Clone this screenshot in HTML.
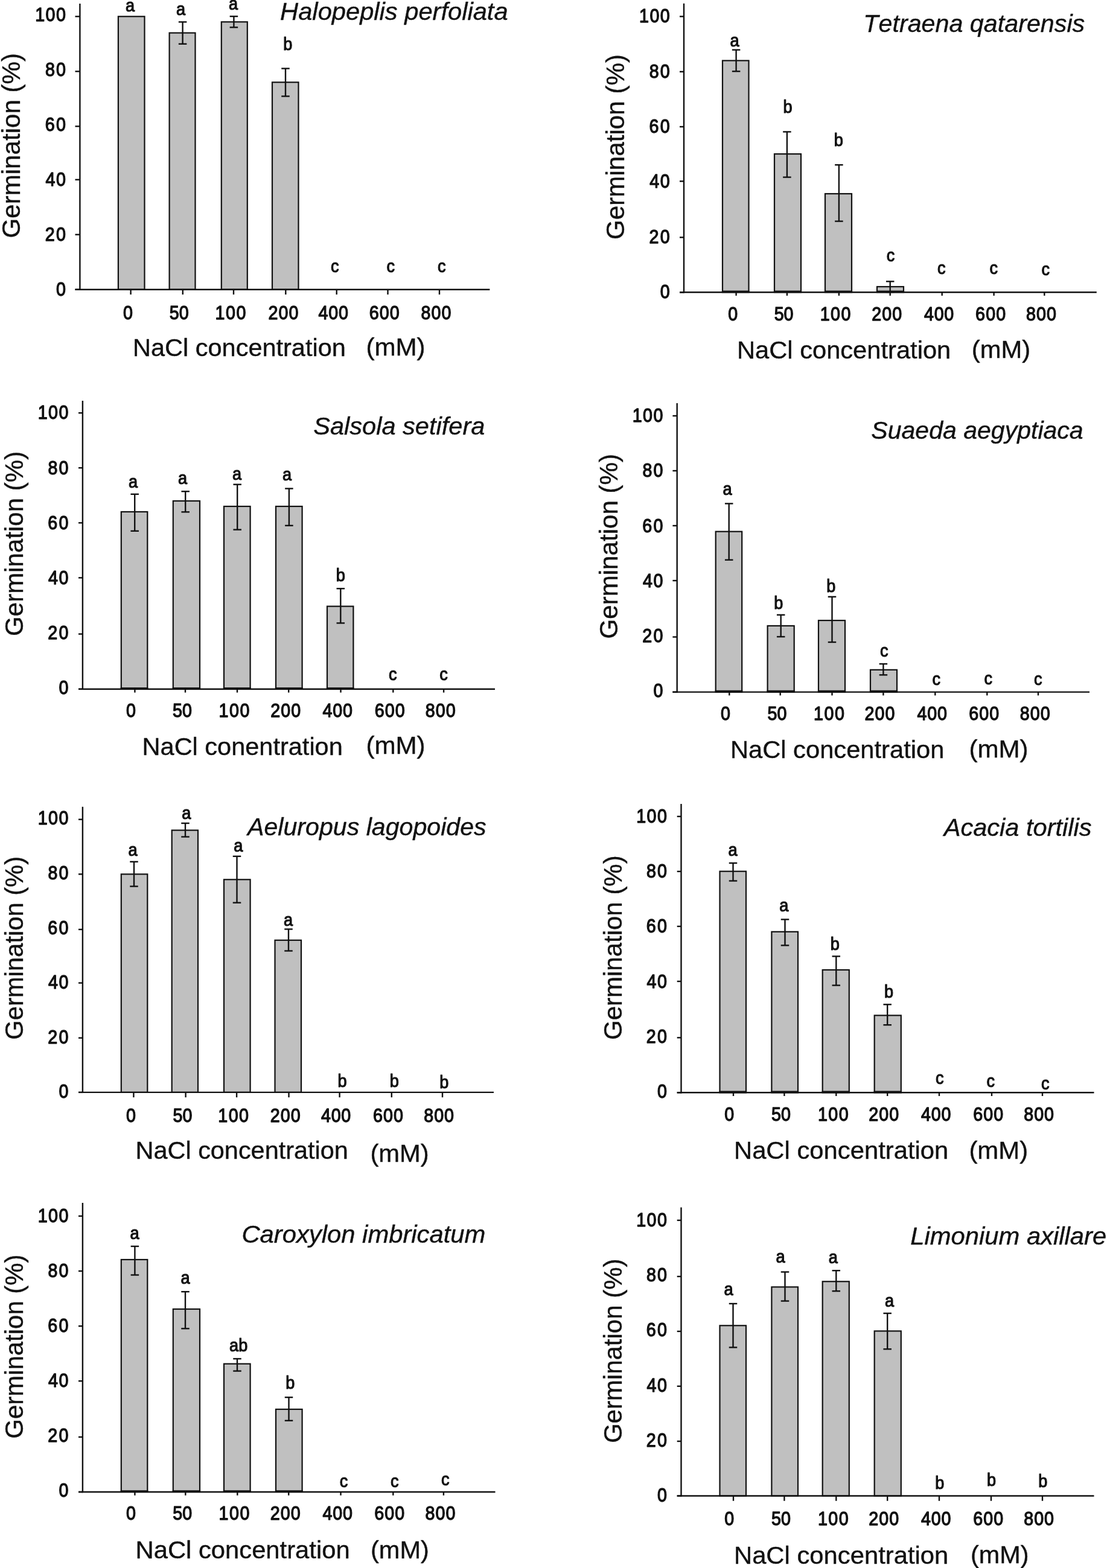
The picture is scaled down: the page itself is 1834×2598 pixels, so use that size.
<!DOCTYPE html>
<html lang="en">
<head>
<meta charset="utf-8">
<title>Germination (%) vs NaCl concentration (mM)</title>
<style>
html,body{margin:0;padding:0;background:#fff;}
body{width:1834px;height:2598px;overflow:hidden;}
svg{display:block;}
text{font-family:"Liberation Sans",Arial,Helvetica,sans-serif;fill:#111111;font-kerning:none;white-space:pre;}
.ln line{stroke:#111111;stroke-width:2.4;stroke-linecap:butt;}
.bars rect{fill:#c0c0c0;stroke:#111111;stroke-width:2.2;}
.n{font-size:31.2px;stroke:#111111;stroke-width:1.35px;stroke-linejoin:round;}
.s{font-size:29.5px;stroke:#111111;stroke-width:1.2px;stroke-linejoin:round;}
.r{font-family:"Liberation Serif","Times New Roman",serif;font-weight:bold;font-size:31px;}
.ti,.ax,.yl,.mm{stroke:#111111;stroke-width:0.4px;stroke-linejoin:round;}
.ti{font-style:italic;font-size:41.2px;}
.ax{font-size:41.2px;}
.yl{font-size:42.5px;}
.mm{font-size:40px;}
</style>
</head>
<body>
<svg width="1834" height="2598" viewBox="0 0 1834 2598" role="img" aria-label="Seed germination under NaCl concentrations for eight species">

<rect x="0" y="0" width="1834" height="2598" fill="#ffffff"/>
<g>
<g class="panel">
<g class="bars">
<rect x="195.9" y="27.3" width="43.6" height="452.4"/>
<rect x="280.6" y="54.5" width="42.9" height="425.2"/>
<rect x="366.8" y="36.3" width="43" height="443.4"/>
<rect x="451" y="136.3" width="43.5" height="343.4"/>
</g>
<g class="ln">
<line x1="132.4" y1="6" x2="132.4" y2="480.9"/>
<line x1="124.5" y1="479.7" x2="811.4" y2="479.7"/>
<line x1="124.5" y1="27.3" x2="132.4" y2="27.3"/>
<line x1="124.5" y1="118.3" x2="132.4" y2="118.3"/>
<line x1="124.5" y1="209.3" x2="132.4" y2="209.3"/>
<line x1="124.5" y1="297.7" x2="132.4" y2="297.7"/>
<line x1="124.5" y1="388.7" x2="132.4" y2="388.7"/>
<line x1="124.5" y1="479.7" x2="132.4" y2="479.7"/>
<line x1="216.6" y1="479.7" x2="216.6" y2="488"/>
<line x1="302.8" y1="479.7" x2="302.8" y2="488"/>
<line x1="387" y1="479.7" x2="387" y2="488"/>
<line x1="473.3" y1="479.7" x2="473.3" y2="488"/>
<line x1="557.7" y1="479.7" x2="557.7" y2="488"/>
<line x1="642.5" y1="479.7" x2="642.5" y2="488"/>
<line x1="728" y1="479.7" x2="728" y2="488"/>
<line x1="302.6" y1="36.4" x2="302.6" y2="72.8"/>
<line x1="295.85" y1="36.4" x2="309.35" y2="36.4"/>
<line x1="295.85" y1="72.8" x2="309.35" y2="72.8"/>
<line x1="387.4" y1="27.1" x2="387.4" y2="45.3"/>
<line x1="380.65" y1="27.1" x2="394.15" y2="27.1"/>
<line x1="380.65" y1="45.3" x2="394.15" y2="45.3"/>
<line x1="473" y1="113.5" x2="473" y2="159.5"/>
<line x1="466.25" y1="113.5" x2="479.75" y2="113.5"/>
<line x1="466.25" y1="159.5" x2="479.75" y2="159.5"/>
</g>
<g class="tk">
<text class="n" transform="translate(58.19 35.2) scale(0.9200 1)" letter-spacing="1.56">100</text>
<text class="n" transform="translate(74.93 126.3) scale(0.9200 1)" letter-spacing="2.27">80</text>
<text class="n" transform="translate(74.72 217.3) scale(0.9200 1)" letter-spacing="2.5">60</text>
<text class="n" transform="translate(75.52 308.4) scale(0.9200 1)" letter-spacing="1.63">40</text>
<text class="n" transform="translate(74.73 399) scale(0.9200 1)" letter-spacing="2.49">20</text>
<text class="n" transform="translate(92.98 490) scale(0.9200 1)">0</text>
<text class="n" transform="translate(204.12 528.9) scale(0.9200 1)">0</text>
<text class="n" transform="translate(280.83 528.9) scale(0.9200 1)" letter-spacing="-0.01">50</text>
<text class="n" transform="translate(356.59 528.9) scale(0.9200 1)" letter-spacing="1.56">100</text>
<text class="n" transform="translate(444.43 528.9) scale(0.9200 1)" letter-spacing="1.15">200</text>
<text class="n" transform="translate(527.62 528.9) scale(0.9200 1)" letter-spacing="0.73">400</text>
<text class="n" transform="translate(611.82 528.9) scale(0.9200 1)" letter-spacing="1.16">600</text>
<text class="n" transform="translate(697.53 528.9) scale(0.9200 1)" letter-spacing="1.05">800</text>
</g>
<g class="lt">
<text class="s" transform="translate(207.88 19) scale(0.9200 1)">a</text>
<text class="s" transform="translate(291.88 25.3) scale(0.9200 1)">a</text>
<text class="s" transform="translate(378.88 16) scale(0.9200 1)">a</text>
<text class="s" transform="translate(469.15 82.7) scale(0.9200 1)">b</text>
<text class="s" transform="translate(548 450.8) scale(0.9200 1)">c</text>
<text class="s" transform="translate(640.6 450.8) scale(0.9200 1)">c</text>
<text class="s" transform="translate(725 450.8) scale(0.9200 1)">c</text>
</g>
<text class="ti" transform="translate(464.12 32.5) scale(1.0115 1)">Halopeplis perfoliata</text>
<text class="ax" transform="translate(220.1 590) scale(1.0069 1)">NaCl concentration</text>
<text class="mm" transform="translate(606.39 588.8) scale(1.0530 1)">(mM)</text>
<text class="yl" transform="translate(33.3 394.52) rotate(-90) scale(0.9914 1)">Germination (%)</text>
</g>
<g class="panel">
<g class="bars">
<rect x="1197" y="100.4" width="43.5" height="383.8"/>
<rect x="1283" y="255.1" width="44" height="229.1"/>
<rect x="1367" y="321" width="44" height="163.2"/>
<rect x="1453" y="475" width="44" height="9.2"/>
</g>
<g class="ln">
<line x1="1195.9" y1="482.6" x2="1241.6" y2="482.6" stroke-width="3.2"/>
<line x1="1281.9" y1="482.6" x2="1328.1" y2="482.6" stroke-width="3.2"/>
<line x1="1365.9" y1="482.6" x2="1412.1" y2="482.6" stroke-width="3.2"/>
<line x1="1451.9" y1="482.6" x2="1498.1" y2="482.6" stroke-width="3.2"/>
</g>
<g class="ln">
<line x1="1133" y1="5.7" x2="1133" y2="485.4"/>
<line x1="1126" y1="484.2" x2="1816.8" y2="484.2"/>
<line x1="1126" y1="27.3" x2="1133" y2="27.3"/>
<line x1="1126" y1="118.8" x2="1133" y2="118.8"/>
<line x1="1126" y1="210" x2="1133" y2="210"/>
<line x1="1126" y1="300.3" x2="1133" y2="300.3"/>
<line x1="1126" y1="393.3" x2="1133" y2="393.3"/>
<line x1="1126" y1="484.4" x2="1133" y2="484.4"/>
<line x1="1219.6" y1="484.2" x2="1219.6" y2="489.9"/>
<line x1="1303.9" y1="484.2" x2="1303.9" y2="489.9"/>
<line x1="1389.9" y1="484.2" x2="1389.9" y2="489.9"/>
<line x1="1474.7" y1="484.2" x2="1474.7" y2="489.9"/>
<line x1="1560.7" y1="484.2" x2="1560.7" y2="489.9"/>
<line x1="1646.6" y1="484.2" x2="1646.6" y2="489.9"/>
<line x1="1730.3" y1="484.2" x2="1730.3" y2="489.9"/>
<line x1="1219.6" y1="82.6" x2="1219.6" y2="118.2"/>
<line x1="1212.85" y1="82.6" x2="1226.35" y2="82.6"/>
<line x1="1212.85" y1="118.2" x2="1226.35" y2="118.2"/>
<line x1="1303.9" y1="218.4" x2="1303.9" y2="293.6"/>
<line x1="1297.15" y1="218.4" x2="1310.65" y2="218.4"/>
<line x1="1297.15" y1="293.6" x2="1310.65" y2="293.6"/>
<line x1="1389.9" y1="273.2" x2="1389.9" y2="366.6"/>
<line x1="1383.15" y1="273.2" x2="1396.65" y2="273.2"/>
<line x1="1383.15" y1="366.6" x2="1396.65" y2="366.6"/>
<line x1="1474.7" y1="466.3" x2="1474.7" y2="484"/>
<line x1="1467.95" y1="466.3" x2="1481.45" y2="466.3"/>
<line x1="1467.95" y1="484" x2="1481.45" y2="484"/>
</g>
<g class="tk">
<text class="n" transform="translate(1058.99 37.1) scale(0.9200 1)" letter-spacing="1.56">100</text>
<text class="n" transform="translate(1075.73 128.6) scale(0.9200 1)" letter-spacing="2.27">80</text>
<text class="n" transform="translate(1075.52 219.9) scale(0.9200 1)" letter-spacing="2.5">60</text>
<text class="n" transform="translate(1076.32 311.2) scale(0.9200 1)" letter-spacing="1.63">40</text>
<text class="n" transform="translate(1075.53 402.5) scale(0.9200 1)" letter-spacing="2.49">20</text>
<text class="n" transform="translate(1093.78 494.2) scale(0.9200 1)">0</text>
<text class="n" transform="translate(1206.32 530.5) scale(0.9200 1)">0</text>
<text class="n" transform="translate(1282.63 530.5) scale(0.9200 1)" letter-spacing="-0.01">50</text>
<text class="n" transform="translate(1358.69 530.5) scale(0.9200 1)" letter-spacing="1.56">100</text>
<text class="n" transform="translate(1444.23 530.5) scale(0.9200 1)" letter-spacing="1.15">200</text>
<text class="n" transform="translate(1531.02 530.5) scale(0.9200 1)" letter-spacing="0.73">400</text>
<text class="n" transform="translate(1616.12 530.5) scale(0.9200 1)" letter-spacing="1.16">600</text>
<text class="n" transform="translate(1700.03 530.5) scale(0.9200 1)" letter-spacing="1.05">800</text>
</g>
<g class="lt">
<text class="s" transform="translate(1209.48 76.6) scale(0.9200 1)">a</text>
<text class="s" transform="translate(1297.55 187) scale(0.9200 1)">b</text>
<text class="s" transform="translate(1381.85 242) scale(0.9200 1)">b</text>
<text class="s" transform="translate(1468.8 433.3) scale(0.9200 1)">c</text>
<text class="s" transform="translate(1553 454.2) scale(0.9200 1)">c</text>
<text class="s" transform="translate(1639.6 454.2) scale(0.9200 1)">c</text>
<text class="s" transform="translate(1725.6 456.4) scale(0.9200 1)">c</text>
</g>
<text class="ti" transform="translate(1430.29 53.1) scale(1.0017 1)">Tetraena qatarensis</text>
<text class="ax" transform="translate(1220.98 594.2) scale(1.0113 1)">NaCl concentration</text>
<text class="mm" transform="translate(1609.81 593) scale(1.0439 1)">(mM)</text>
<text class="yl" transform="translate(1034.2 396.92) rotate(-90) scale(0.9924 1)">Germination (%)</text>
</g>
<g class="panel">
<g class="bars">
<rect x="200.8" y="848" width="43.5" height="293.8"/>
<rect x="286.8" y="830" width="44.2" height="311.8"/>
<rect x="371" y="839" width="43.6" height="302.8"/>
<rect x="457" y="839" width="43.6" height="302.8"/>
<rect x="542" y="1004.6" width="43.4" height="137.2"/>
</g>
<g class="ln">
<line x1="199.7" y1="1140.2" x2="245.4" y2="1140.2" stroke-width="3.2"/>
<line x1="285.7" y1="1140.2" x2="332.1" y2="1140.2" stroke-width="3.2"/>
<line x1="369.9" y1="1140.2" x2="415.7" y2="1140.2" stroke-width="3.2"/>
<line x1="455.9" y1="1140.2" x2="501.7" y2="1140.2" stroke-width="3.2"/>
<line x1="540.9" y1="1140.2" x2="586.5" y2="1140.2" stroke-width="3.2"/>
</g>
<g class="ln">
<line x1="136.9" y1="664" x2="136.9" y2="1143"/>
<line x1="130" y1="1141.8" x2="820" y2="1141.8"/>
<line x1="130" y1="684.2" x2="136.9" y2="684.2"/>
<line x1="130" y1="775.2" x2="136.9" y2="775.2"/>
<line x1="130" y1="866.3" x2="136.9" y2="866.3"/>
<line x1="130" y1="957.3" x2="136.9" y2="957.3"/>
<line x1="130" y1="1050.5" x2="136.9" y2="1050.5"/>
<line x1="130" y1="1141.8" x2="136.9" y2="1141.8"/>
<line x1="223.4" y1="1141.8" x2="223.4" y2="1147.5"/>
<line x1="307" y1="1141.8" x2="307" y2="1147.5"/>
<line x1="393" y1="1141.8" x2="393" y2="1147.5"/>
<line x1="478.2" y1="1141.8" x2="478.2" y2="1147.5"/>
<line x1="564.5" y1="1141.8" x2="564.5" y2="1147.5"/>
<line x1="651.3" y1="1141.8" x2="651.3" y2="1147.5"/>
<line x1="735.1" y1="1141.8" x2="735.1" y2="1147.5"/>
<line x1="223.2" y1="818.8" x2="223.2" y2="879.8"/>
<line x1="216.45" y1="818.8" x2="229.95" y2="818.8"/>
<line x1="216.45" y1="879.8" x2="229.95" y2="879.8"/>
<line x1="307.2" y1="814.2" x2="307.2" y2="848.3"/>
<line x1="300.45" y1="814.2" x2="313.95" y2="814.2"/>
<line x1="300.45" y1="848.3" x2="313.95" y2="848.3"/>
<line x1="393.2" y1="802.7" x2="393.2" y2="877.6"/>
<line x1="386.45" y1="802.7" x2="399.95" y2="802.7"/>
<line x1="386.45" y1="877.6" x2="399.95" y2="877.6"/>
<line x1="478.9" y1="809.5" x2="478.9" y2="870.8"/>
<line x1="472.15" y1="809.5" x2="485.65" y2="809.5"/>
<line x1="472.15" y1="870.8" x2="485.65" y2="870.8"/>
<line x1="564.3" y1="975.2" x2="564.3" y2="1032.4"/>
<line x1="557.55" y1="975.2" x2="571.05" y2="975.2"/>
<line x1="557.55" y1="1032.4" x2="571.05" y2="1032.4"/>
</g>
<g class="tk">
<text class="n" transform="translate(62.69 694.3) scale(0.9200 1)" letter-spacing="1.56">100</text>
<text class="n" transform="translate(79.43 785.5) scale(0.9200 1)" letter-spacing="2.27">80</text>
<text class="n" transform="translate(79.22 876.8) scale(0.9200 1)" letter-spacing="2.5">60</text>
<text class="n" transform="translate(80.02 967.5) scale(0.9200 1)" letter-spacing="1.63">40</text>
<text class="n" transform="translate(79.23 1058.8) scale(0.9200 1)" letter-spacing="2.49">20</text>
<text class="n" transform="translate(97.48 1150) scale(0.9200 1)">0</text>
<text class="n" transform="translate(208.92 1188) scale(0.9200 1)">0</text>
<text class="n" transform="translate(286.03 1188) scale(0.9200 1)" letter-spacing="-0.01">50</text>
<text class="n" transform="translate(362.59 1188) scale(0.9200 1)" letter-spacing="1.56">100</text>
<text class="n" transform="translate(448.13 1188) scale(0.9200 1)" letter-spacing="1.15">200</text>
<text class="n" transform="translate(534.62 1188) scale(0.9200 1)" letter-spacing="0.73">400</text>
<text class="n" transform="translate(620.82 1188) scale(0.9200 1)" letter-spacing="1.16">600</text>
<text class="n" transform="translate(704.83 1188) scale(0.9200 1)" letter-spacing="1.05">800</text>
</g>
<g class="lt">
<text class="s" transform="translate(212.88 808.4) scale(0.9200 1)">a</text>
<text class="s" transform="translate(294.88 801.6) scale(0.9200 1)">a</text>
<text class="s" transform="translate(384.88 794.8) scale(0.9200 1)">a</text>
<text class="s" transform="translate(467.88 796) scale(0.9200 1)">a</text>
<text class="s" transform="translate(556.65 962.8) scale(0.9200 1)">b</text>
<text class="s" transform="translate(644 1126.8) scale(0.9200 1)">c</text>
<text class="s" transform="translate(728.3 1126.8) scale(0.9200 1)">c</text>
</g>
<text class="ti" transform="translate(519.22 719.5) scale(1.0089 1)">Salsola setifera</text>
<text class="ax" transform="translate(235.59 1250.6) scale(1.0076 1)">NaCl conentration</text>
<text class="mm" transform="translate(606.39 1249.3) scale(1.0530 1)">(mM)</text>
<text class="yl" transform="translate(38 1053.91) rotate(-90) scale(0.9894 1)">Germination (%)</text>
</g>
<g class="panel">
<g class="bars">
<rect x="1185.7" y="880.7" width="43.5" height="265.9"/>
<rect x="1271.6" y="1036.9" width="44.1" height="109.7"/>
<rect x="1356" y="1028" width="44" height="118.6"/>
<rect x="1442" y="1109.8" width="44" height="36.8"/>
</g>
<g class="ln">
<line x1="1184.6" y1="1145" x2="1230.3" y2="1145" stroke-width="3.2"/>
<line x1="1270.5" y1="1145" x2="1316.8" y2="1145" stroke-width="3.2"/>
<line x1="1354.9" y1="1145" x2="1401.1" y2="1145" stroke-width="3.2"/>
<line x1="1440.9" y1="1145" x2="1487.1" y2="1145" stroke-width="3.2"/>
</g>
<g class="ln">
<line x1="1121.7" y1="668" x2="1121.7" y2="1147.8"/>
<line x1="1114.4" y1="1146.6" x2="1805" y2="1146.6"/>
<line x1="1114.4" y1="689" x2="1121.7" y2="689"/>
<line x1="1114.4" y1="780" x2="1121.7" y2="780"/>
<line x1="1114.4" y1="871" x2="1121.7" y2="871"/>
<line x1="1114.4" y1="962" x2="1121.7" y2="962"/>
<line x1="1114.4" y1="1055.4" x2="1121.7" y2="1055.4"/>
<line x1="1114.4" y1="1146.6" x2="1121.7" y2="1146.6"/>
<line x1="1208.3" y1="1146.6" x2="1208.3" y2="1152.3"/>
<line x1="1292.7" y1="1146.6" x2="1292.7" y2="1152.3"/>
<line x1="1378.5" y1="1146.6" x2="1378.5" y2="1152.3"/>
<line x1="1463.4" y1="1146.6" x2="1463.4" y2="1152.3"/>
<line x1="1549.3" y1="1146.6" x2="1549.3" y2="1152.3"/>
<line x1="1635.3" y1="1146.6" x2="1635.3" y2="1152.3"/>
<line x1="1720" y1="1146.6" x2="1720" y2="1152.3"/>
<line x1="1207.7" y1="834.4" x2="1207.7" y2="927.7"/>
<line x1="1200.95" y1="834.4" x2="1214.45" y2="834.4"/>
<line x1="1200.95" y1="927.7" x2="1214.45" y2="927.7"/>
<line x1="1293.7" y1="1018.8" x2="1293.7" y2="1055"/>
<line x1="1286.95" y1="1018.8" x2="1300.45" y2="1018.8"/>
<line x1="1286.95" y1="1055" x2="1300.45" y2="1055"/>
<line x1="1378.5" y1="988.8" x2="1378.5" y2="1064"/>
<line x1="1371.75" y1="988.8" x2="1385.25" y2="988.8"/>
<line x1="1371.75" y1="1064" x2="1385.25" y2="1064"/>
<line x1="1463.4" y1="1100" x2="1463.4" y2="1118.3"/>
<line x1="1456.65" y1="1100" x2="1470.15" y2="1100"/>
<line x1="1456.65" y1="1118.3" x2="1470.15" y2="1118.3"/>
</g>
<g class="tk">
<text class="n" transform="translate(1047.69 699.2) scale(0.9200 1)" letter-spacing="1.56">100</text>
<text class="n" transform="translate(1064.43 790.4) scale(0.9200 1)" letter-spacing="2.27">80</text>
<text class="n" transform="translate(1064.22 881.6) scale(0.9200 1)" letter-spacing="2.5">60</text>
<text class="n" transform="translate(1065.02 972.8) scale(0.9200 1)" letter-spacing="1.63">40</text>
<text class="n" transform="translate(1064.23 1064) scale(0.9200 1)" letter-spacing="2.49">20</text>
<text class="n" transform="translate(1082.48 1155.2) scale(0.9200 1)">0</text>
<text class="n" transform="translate(1194.02 1193.3) scale(0.9200 1)">0</text>
<text class="n" transform="translate(1271.53 1193.3) scale(0.9200 1)" letter-spacing="-0.01">50</text>
<text class="n" transform="translate(1348.09 1193.3) scale(0.9200 1)" letter-spacing="1.56">100</text>
<text class="n" transform="translate(1432.43 1193.3) scale(0.9200 1)" letter-spacing="1.15">200</text>
<text class="n" transform="translate(1519.62 1193.3) scale(0.9200 1)" letter-spacing="0.73">400</text>
<text class="n" transform="translate(1605.32 1193.3) scale(0.9200 1)" letter-spacing="1.16">600</text>
<text class="n" transform="translate(1689.83 1193.3) scale(0.9200 1)" letter-spacing="1.05">800</text>
</g>
<g class="lt">
<text class="s" transform="translate(1197.38 819.7) scale(0.9200 1)">a</text>
<text class="s" transform="translate(1282.15 1008.6) scale(0.9200 1)">b</text>
<text class="s" transform="translate(1369.15 981.4) scale(0.9200 1)">b</text>
<text class="s" transform="translate(1458 1088.3) scale(0.9200 1)">c</text>
<text class="s" transform="translate(1544.6 1135.3) scale(0.9200 1)">c</text>
<text class="s" transform="translate(1630.6 1133.6) scale(0.9200 1)">c</text>
<text class="s" transform="translate(1713 1135.3) scale(0.9200 1)">c</text>
</g>
<text class="ti" transform="translate(1443.34 726.7) scale(0.9963 1)">Suaeda aegyptiaca</text>
<text class="ax" transform="translate(1209.88 1256.3) scale(1.0121 1)">NaCl concentration</text>
<text class="mm" transform="translate(1605.39 1255) scale(1.0530 1)">(mM)</text>
<text class="yl" transform="translate(1023.4 1058.52) rotate(-90) scale(0.9914 1)">Germination (%)</text>
</g>
<g class="panel">
<g class="bars">
<rect x="200.8" y="1448.4" width="43.5" height="361.5"/>
<rect x="284.7" y="1375.6" width="43.3" height="434.3"/>
<rect x="371" y="1457.3" width="43.6" height="352.6"/>
<rect x="455.5" y="1557.8" width="43.5" height="252.1"/>
</g>
<g class="ln">
<line x1="136.9" y1="1336.8" x2="136.9" y2="1811.1"/>
<line x1="130" y1="1809.9" x2="818" y2="1809.9"/>
<line x1="130" y1="1357.7" x2="136.9" y2="1357.7"/>
<line x1="130" y1="1448.4" x2="136.9" y2="1448.4"/>
<line x1="130" y1="1540" x2="136.9" y2="1540"/>
<line x1="130" y1="1628.6" x2="136.9" y2="1628.6"/>
<line x1="130" y1="1719.7" x2="136.9" y2="1719.7"/>
<line x1="130" y1="1809.9" x2="136.9" y2="1809.9"/>
<line x1="221.4" y1="1809.9" x2="221.4" y2="1818.2"/>
<line x1="307.6" y1="1809.9" x2="307.6" y2="1818.2"/>
<line x1="392.1" y1="1809.9" x2="392.1" y2="1818.2"/>
<line x1="478.5" y1="1809.9" x2="478.5" y2="1818.2"/>
<line x1="562.6" y1="1809.9" x2="562.6" y2="1818.2"/>
<line x1="648.8" y1="1809.9" x2="648.8" y2="1818.2"/>
<line x1="733" y1="1809.9" x2="733" y2="1818.2"/>
<line x1="222" y1="1427.8" x2="222" y2="1468.6"/>
<line x1="215.25" y1="1427.8" x2="228.75" y2="1427.8"/>
<line x1="215.25" y1="1468.6" x2="228.75" y2="1468.6"/>
<line x1="307" y1="1364" x2="307" y2="1386.5"/>
<line x1="300.25" y1="1364" x2="313.75" y2="1364"/>
<line x1="300.25" y1="1386.5" x2="313.75" y2="1386.5"/>
<line x1="392.5" y1="1418.8" x2="392.5" y2="1495.7"/>
<line x1="385.75" y1="1418.8" x2="399.25" y2="1418.8"/>
<line x1="385.75" y1="1495.7" x2="399.25" y2="1495.7"/>
<line x1="478" y1="1539.5" x2="478" y2="1575.5"/>
<line x1="471.25" y1="1539.5" x2="484.75" y2="1539.5"/>
<line x1="471.25" y1="1575.5" x2="484.75" y2="1575.5"/>
</g>
<g class="tk">
<text class="n" transform="translate(62.69 1365.7) scale(0.9200 1)" letter-spacing="1.56">100</text>
<text class="n" transform="translate(79.43 1456.9) scale(0.9200 1)" letter-spacing="2.27">80</text>
<text class="n" transform="translate(79.22 1548.1) scale(0.9200 1)" letter-spacing="2.5">60</text>
<text class="n" transform="translate(80.02 1637.7) scale(0.9200 1)" letter-spacing="1.63">40</text>
<text class="n" transform="translate(79.23 1728.7) scale(0.9200 1)" letter-spacing="2.49">20</text>
<text class="n" transform="translate(97.48 1819.2) scale(0.9200 1)">0</text>
<text class="n" transform="translate(208.92 1858.6) scale(0.9200 1)">0</text>
<text class="n" transform="translate(286.53 1858.6) scale(0.9200 1)" letter-spacing="-0.01">50</text>
<text class="n" transform="translate(361.29 1858.6) scale(0.9200 1)" letter-spacing="1.56">100</text>
<text class="n" transform="translate(447.83 1858.6) scale(0.9200 1)" letter-spacing="1.15">200</text>
<text class="n" transform="translate(532.02 1858.6) scale(0.9200 1)" letter-spacing="0.73">400</text>
<text class="n" transform="translate(618.02 1858.6) scale(0.9200 1)" letter-spacing="1.16">600</text>
<text class="n" transform="translate(702.23 1858.6) scale(0.9200 1)" letter-spacing="1.05">800</text>
</g>
<g class="lt">
<text class="s" transform="translate(212.48 1417.6) scale(0.9200 1)">a</text>
<text class="s" transform="translate(301.28 1356.6) scale(0.9200 1)">a</text>
<text class="s" transform="translate(387.28 1411.4) scale(0.9200 1)">a</text>
<text class="s" transform="translate(469.88 1533.6) scale(0.9200 1)">a</text>
<text class="s" transform="translate(559.45 1800.6) scale(0.9200 1)">b</text>
<text class="s" transform="translate(645.85 1800.6) scale(0.9200 1)">b</text>
<text class="s" transform="translate(728.15 1802.8) scale(0.9200 1)">b</text>
</g>
<text class="ti" transform="translate(410.03 1384) scale(0.9989 1)">Aeluropus lagopoides</text>
<text class="ax" transform="translate(224.6 1919.7) scale(1.0054 1)">NaCl concentration</text>
<text class="mm" transform="translate(613.42 1924.8) scale(1.0417 1)">(mM)</text>
<text class="yl" transform="translate(38 1722.7) rotate(-90) scale(0.9822 1)">Germination (%)</text>
</g>
<g class="panel">
<g class="bars">
<rect x="1192.5" y="1443.7" width="43.5" height="366.6"/>
<rect x="1278.4" y="1543.8" width="43.6" height="266.5"/>
<rect x="1362.7" y="1607" width="44.1" height="203.3"/>
<rect x="1448.7" y="1682.4" width="44.1" height="127.9"/>
</g>
<g class="ln">
<line x1="1191.4" y1="1808.7" x2="1237.1" y2="1808.7" stroke-width="3.2"/>
<line x1="1277.3" y1="1808.7" x2="1323.1" y2="1808.7" stroke-width="3.2"/>
<line x1="1361.6" y1="1808.7" x2="1407.9" y2="1808.7" stroke-width="3.2"/>
<line x1="1447.6" y1="1808.7" x2="1493.9" y2="1808.7" stroke-width="3.2"/>
</g>
<g class="ln">
<line x1="1128.5" y1="1332" x2="1128.5" y2="1811.5"/>
<line x1="1121.7" y1="1810.3" x2="1812.5" y2="1810.3"/>
<line x1="1121.7" y1="1352.8" x2="1128.5" y2="1352.8"/>
<line x1="1121.7" y1="1443.9" x2="1128.5" y2="1443.9"/>
<line x1="1121.7" y1="1534.9" x2="1128.5" y2="1534.9"/>
<line x1="1121.7" y1="1626" x2="1128.5" y2="1626"/>
<line x1="1121.7" y1="1719.3" x2="1128.5" y2="1719.3"/>
<line x1="1121.7" y1="1810.3" x2="1128.5" y2="1810.3"/>
<line x1="1215" y1="1810.3" x2="1215" y2="1816"/>
<line x1="1299.4" y1="1810.3" x2="1299.4" y2="1816"/>
<line x1="1385.3" y1="1810.3" x2="1385.3" y2="1816"/>
<line x1="1470.2" y1="1810.3" x2="1470.2" y2="1816"/>
<line x1="1556" y1="1810.3" x2="1556" y2="1816"/>
<line x1="1643" y1="1810.3" x2="1643" y2="1816"/>
<line x1="1727" y1="1810.3" x2="1727" y2="1816"/>
<line x1="1214.5" y1="1430" x2="1214.5" y2="1459.5"/>
<line x1="1207.75" y1="1430" x2="1221.25" y2="1430"/>
<line x1="1207.75" y1="1459.5" x2="1221.25" y2="1459.5"/>
<line x1="1300.5" y1="1523.4" x2="1300.5" y2="1566.4"/>
<line x1="1293.75" y1="1523.4" x2="1307.25" y2="1523.4"/>
<line x1="1293.75" y1="1566.4" x2="1307.25" y2="1566.4"/>
<line x1="1385.3" y1="1584.5" x2="1385.3" y2="1632.6"/>
<line x1="1378.55" y1="1584.5" x2="1392.05" y2="1584.5"/>
<line x1="1378.55" y1="1632.6" x2="1392.05" y2="1632.6"/>
<line x1="1470.2" y1="1664.3" x2="1470.2" y2="1698.2"/>
<line x1="1463.45" y1="1664.3" x2="1476.95" y2="1664.3"/>
<line x1="1463.45" y1="1698.2" x2="1476.95" y2="1698.2"/>
</g>
<g class="tk">
<text class="n" transform="translate(1054.19 1363.2) scale(0.9200 1)" letter-spacing="1.56">100</text>
<text class="n" transform="translate(1070.93 1454.3) scale(0.9200 1)" letter-spacing="2.27">80</text>
<text class="n" transform="translate(1070.72 1545.4) scale(0.9200 1)" letter-spacing="2.5">60</text>
<text class="n" transform="translate(1071.52 1636.5) scale(0.9200 1)" letter-spacing="1.63">40</text>
<text class="n" transform="translate(1070.73 1727.6) scale(0.9200 1)" letter-spacing="2.49">20</text>
<text class="n" transform="translate(1088.98 1818.7) scale(0.9200 1)">0</text>
<text class="n" transform="translate(1200.32 1856.5) scale(0.9200 1)">0</text>
<text class="n" transform="translate(1278.03 1856.5) scale(0.9200 1)" letter-spacing="-0.01">50</text>
<text class="n" transform="translate(1354.89 1856.5) scale(0.9200 1)" letter-spacing="1.56">100</text>
<text class="n" transform="translate(1439.23 1856.5) scale(0.9200 1)" letter-spacing="1.15">200</text>
<text class="n" transform="translate(1526.12 1856.5) scale(0.9200 1)" letter-spacing="0.73">400</text>
<text class="n" transform="translate(1612.32 1856.5) scale(0.9200 1)" letter-spacing="1.16">600</text>
<text class="n" transform="translate(1696.23 1856.5) scale(0.9200 1)" letter-spacing="1.05">800</text>
</g>
<g class="lt">
<text class="s" transform="translate(1206.38 1417.6) scale(0.9200 1)">a</text>
<text class="s" transform="translate(1291.28 1510.4) scale(0.9200 1)">a</text>
<text class="s" transform="translate(1375.75 1574.3) scale(0.9200 1)">b</text>
<text class="s" transform="translate(1465.05 1653.2) scale(0.9200 1)">b</text>
<text class="s" transform="translate(1550 1796) scale(0.9200 1)">c</text>
<text class="s" transform="translate(1634.5 1800.6) scale(0.9200 1)">c</text>
<text class="s" transform="translate(1725 1804.5) scale(0.9200 1)">c</text>
</g>
<text class="ti" transform="translate(1563.65 1385.1) scale(1.0095 1)">Acacia tortilis</text>
<text class="ax" transform="translate(1215.97 1920) scale(1.0142 1)">NaCl concentration</text>
<text class="mm" transform="translate(1605.4 1920) scale(1.0485 1)">(mM)</text>
<text class="yl" transform="translate(1030 1722.91) rotate(-90) scale(0.9878 1)">Germination (%)</text>
</g>
<g class="panel">
<g class="bars">
<rect x="200.8" y="2087" width="43.5" height="385"/>
<rect x="286.8" y="2169" width="44.2" height="303"/>
<rect x="371" y="2259.7" width="43.6" height="212.3"/>
<rect x="457" y="2335" width="43.6" height="137"/>
</g>
<g class="ln">
<line x1="199.7" y1="2470.4" x2="245.4" y2="2470.4" stroke-width="3.2"/>
<line x1="285.7" y1="2470.4" x2="332.1" y2="2470.4" stroke-width="3.2"/>
<line x1="369.9" y1="2470.4" x2="415.7" y2="2470.4" stroke-width="3.2"/>
<line x1="455.9" y1="2470.4" x2="501.7" y2="2470.4" stroke-width="3.2"/>
</g>
<g class="ln">
<line x1="136.9" y1="1993" x2="136.9" y2="2473.2"/>
<line x1="130" y1="2472" x2="820.5" y2="2472"/>
<line x1="130" y1="2014.9" x2="136.9" y2="2014.9"/>
<line x1="130" y1="2106" x2="136.9" y2="2106"/>
<line x1="130" y1="2197.2" x2="136.9" y2="2197.2"/>
<line x1="130" y1="2288.2" x2="136.9" y2="2288.2"/>
<line x1="130" y1="2381" x2="136.9" y2="2381"/>
<line x1="130" y1="2472" x2="136.9" y2="2472"/>
<line x1="223.4" y1="2472" x2="223.4" y2="2477.7"/>
<line x1="307.3" y1="2472" x2="307.3" y2="2477.7"/>
<line x1="393.3" y1="2472" x2="393.3" y2="2477.7"/>
<line x1="478.2" y1="2472" x2="478.2" y2="2477.7"/>
<line x1="564.5" y1="2472" x2="564.5" y2="2477.7"/>
<line x1="651.3" y1="2472" x2="651.3" y2="2477.7"/>
<line x1="734.9" y1="2472" x2="734.9" y2="2477.7"/>
<line x1="223.4" y1="2065" x2="223.4" y2="2112.5"/>
<line x1="216.65" y1="2065" x2="230.15" y2="2065"/>
<line x1="216.65" y1="2112.5" x2="230.15" y2="2112.5"/>
<line x1="307" y1="2140.2" x2="307" y2="2201.3"/>
<line x1="300.25" y1="2140.2" x2="313.75" y2="2140.2"/>
<line x1="300.25" y1="2201.3" x2="313.75" y2="2201.3"/>
<line x1="393" y1="2251.3" x2="393" y2="2271.6"/>
<line x1="386.25" y1="2251.3" x2="399.75" y2="2251.3"/>
<line x1="386.25" y1="2271.6" x2="399.75" y2="2271.6"/>
<line x1="478.5" y1="2315.2" x2="478.5" y2="2353.8"/>
<line x1="471.75" y1="2315.2" x2="485.25" y2="2315.2"/>
<line x1="471.75" y1="2353.8" x2="485.25" y2="2353.8"/>
</g>
<g class="tk">
<text class="n" transform="translate(62.69 2025) scale(0.9200 1)" letter-spacing="1.56">100</text>
<text class="n" transform="translate(79.43 2116) scale(0.9200 1)" letter-spacing="2.27">80</text>
<text class="n" transform="translate(79.22 2207) scale(0.9200 1)" letter-spacing="2.5">60</text>
<text class="n" transform="translate(80.02 2298) scale(0.9200 1)" letter-spacing="1.63">40</text>
<text class="n" transform="translate(79.23 2389) scale(0.9200 1)" letter-spacing="2.49">20</text>
<text class="n" transform="translate(97.48 2480) scale(0.9200 1)">0</text>
<text class="n" transform="translate(208.92 2517.8) scale(0.9200 1)">0</text>
<text class="n" transform="translate(286.33 2517.8) scale(0.9200 1)" letter-spacing="-0.01">50</text>
<text class="n" transform="translate(362.59 2517.8) scale(0.9200 1)" letter-spacing="1.56">100</text>
<text class="n" transform="translate(447.83 2517.8) scale(0.9200 1)" letter-spacing="1.15">200</text>
<text class="n" transform="translate(534.62 2517.8) scale(0.9200 1)" letter-spacing="0.73">400</text>
<text class="n" transform="translate(620.22 2517.8) scale(0.9200 1)" letter-spacing="1.16">600</text>
<text class="n" transform="translate(704.53 2517.8) scale(0.9200 1)" letter-spacing="1.05">800</text>
</g>
<g class="lt">
<text class="s" transform="translate(215.48 2052.6) scale(0.9200 1)">a</text>
<text class="s" transform="translate(299.38 2127.2) scale(0.9200 1)">a</text>
<text class="s" transform="translate(380.1 2239.2) scale(0.9200 1)">ab</text>
<text class="s" transform="translate(473.35 2301.2) scale(0.9200 1)">b</text>
<text class="s" transform="translate(562.8 2463.8) scale(0.9200 1)">c</text>
<text class="s" transform="translate(647.1 2463.8) scale(0.9200 1)">c</text>
<text class="s" transform="translate(731 2461) scale(0.9200 1)">c</text>
</g>
<text class="ti" transform="translate(400.39 2058.8) scale(1.0145 1)">Caroxylon imbricatum</text>
<text class="ax" transform="translate(224.57 2582.4) scale(1.0136 1)">NaCl concentration</text>
<text class="mm" transform="translate(614.02 2581.8) scale(1.0383 1)">(mM)</text>
<text class="yl" transform="translate(38 2383.71) rotate(-90) scale(0.9868 1)">Germination (%)</text>
</g>
<g class="panel">
<g class="bars">
<rect x="1192.5" y="2196.3" width="43.5" height="282.2"/>
<rect x="1278.4" y="2132.4" width="43.6" height="346.1"/>
<rect x="1362.7" y="2123.3" width="44.1" height="355.2"/>
<rect x="1448.7" y="2205.4" width="44.1" height="273.1"/>
</g>
<g class="ln">
<line x1="1128.5" y1="2000.6" x2="1128.5" y2="2479.7"/>
<line x1="1121.7" y1="2478.5" x2="1812.5" y2="2478.5"/>
<line x1="1121.7" y1="2021.9" x2="1128.5" y2="2021.9"/>
<line x1="1121.7" y1="2115" x2="1128.5" y2="2115"/>
<line x1="1121.7" y1="2205.9" x2="1128.5" y2="2205.9"/>
<line x1="1121.7" y1="2296.8" x2="1128.5" y2="2296.8"/>
<line x1="1121.7" y1="2388" x2="1128.5" y2="2388"/>
<line x1="1121.7" y1="2478.5" x2="1128.5" y2="2478.5"/>
<line x1="1215" y1="2478.5" x2="1215" y2="2486.8"/>
<line x1="1299.4" y1="2478.5" x2="1299.4" y2="2486.8"/>
<line x1="1385.3" y1="2478.5" x2="1385.3" y2="2486.8"/>
<line x1="1470.2" y1="2478.5" x2="1470.2" y2="2486.8"/>
<line x1="1556" y1="2478.5" x2="1556" y2="2486.8"/>
<line x1="1642" y1="2478.5" x2="1642" y2="2486.8"/>
<line x1="1727" y1="2478.5" x2="1727" y2="2486.8"/>
<line x1="1214.5" y1="2160" x2="1214.5" y2="2232.5"/>
<line x1="1207.75" y1="2160" x2="1221.25" y2="2160"/>
<line x1="1207.75" y1="2232.5" x2="1221.25" y2="2232.5"/>
<line x1="1300.5" y1="2107.5" x2="1300.5" y2="2155.6"/>
<line x1="1293.75" y1="2107.5" x2="1307.25" y2="2107.5"/>
<line x1="1293.75" y1="2155.6" x2="1307.25" y2="2155.6"/>
<line x1="1385.3" y1="2105.2" x2="1385.3" y2="2139.2"/>
<line x1="1378.55" y1="2105.2" x2="1392.05" y2="2105.2"/>
<line x1="1378.55" y1="2139.2" x2="1392.05" y2="2139.2"/>
<line x1="1470.2" y1="2176" x2="1470.2" y2="2235.3"/>
<line x1="1463.45" y1="2176" x2="1476.95" y2="2176"/>
<line x1="1463.45" y1="2235.3" x2="1476.95" y2="2235.3"/>
</g>
<g class="tk">
<text class="n" transform="translate(1054.19 2032) scale(0.9200 1)" letter-spacing="1.56">100</text>
<text class="n" transform="translate(1070.93 2123.2) scale(0.9200 1)" letter-spacing="2.27">80</text>
<text class="n" transform="translate(1070.72 2214.3) scale(0.9200 1)" letter-spacing="2.5">60</text>
<text class="n" transform="translate(1071.52 2305.5) scale(0.9200 1)" letter-spacing="1.63">40</text>
<text class="n" transform="translate(1070.73 2396.5) scale(0.9200 1)" letter-spacing="2.49">20</text>
<text class="n" transform="translate(1088.98 2487.5) scale(0.9200 1)">0</text>
<text class="n" transform="translate(1200.32 2527.4) scale(0.9200 1)">0</text>
<text class="n" transform="translate(1278.03 2527.4) scale(0.9200 1)" letter-spacing="-0.01">50</text>
<text class="n" transform="translate(1354.89 2527.4) scale(0.9200 1)" letter-spacing="1.56">100</text>
<text class="n" transform="translate(1439.23 2527.4) scale(0.9200 1)" letter-spacing="1.15">200</text>
<text class="n" transform="translate(1526.12 2527.4) scale(0.9200 1)" letter-spacing="0.73">400</text>
<text class="n" transform="translate(1612.32 2527.4) scale(0.9200 1)" letter-spacing="1.16">600</text>
<text class="n" transform="translate(1696.23 2527.4) scale(0.9200 1)" letter-spacing="1.05">800</text>
</g>
<g class="lt">
<text class="s" transform="translate(1199.58 2146) scale(0.9200 1)">a</text>
<text class="s" transform="translate(1285.58 2091.7) scale(0.9200 1)">a</text>
<text class="s" transform="translate(1372.68 2092.8) scale(0.9200 1)">a</text>
<text class="s" transform="translate(1465.88 2164.6) scale(0.9200 1)">a</text>
<text class="s" transform="translate(1549.15 2466.7) scale(0.9200 1)">b</text>
<text class="s" transform="translate(1634.95 2462) scale(0.9200 1)">b</text>
<text class="s" transform="translate(1720.15 2463.8) scale(0.9200 1)">b</text>
</g>
<text class="ti" transform="translate(1508.31 2061.6) scale(1.0139 1)">Limonium axillare</text>
<text class="ax" transform="translate(1215.97 2591.3) scale(1.0142 1)">NaCl concentration</text>
<text class="mm" transform="translate(1608.03 2590) scale(1.0349 1)">(mM)</text>
<text class="yl" transform="translate(1030 2391.11) rotate(-90) scale(0.9881 1)">Germination (%)</text>
</g>
</g>
</svg>
</body>
</html>
